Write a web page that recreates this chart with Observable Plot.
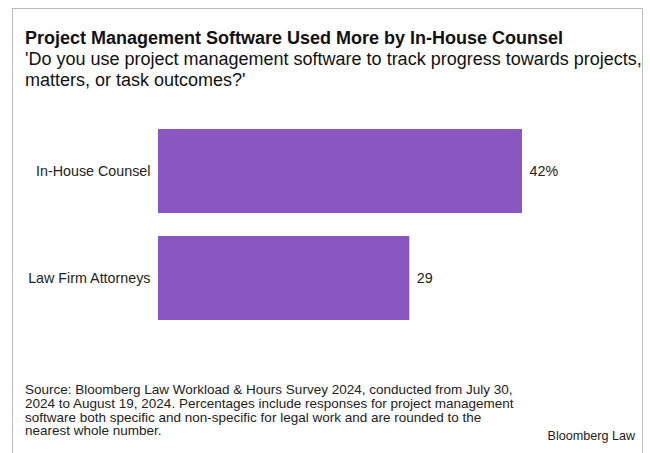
<!DOCTYPE html>
<html>
<head>
<meta charset="utf-8">
<script src="https://cdn.jsdelivr.net/npm/d3@7"></script>
<script src="https://cdn.jsdelivr.net/npm/@observablehq/plot@0.6"></script>
<style>
  html, body { margin: 0; padding: 0; background: #fff; }
  body { width: 650px; height: 453px; position: relative; overflow: hidden; font-family: "Liberation Sans", Arial, Helvetica, sans-serif; color: #111; }
  #frame { position: absolute; left: 12px; top: 8px; width: 631px; height: 460px; border: 1px solid #bdbdbd; box-sizing: border-box; }
  #title { position: absolute; left: 25px; top: 27px; font-size: 18px; line-height: 22px; font-weight: bold; white-space: nowrap; }
  #subtitle { position: absolute; left: 25px; top: 49px; width: 620px; font-size: 18px; line-height: 21px; color: #111; white-space: nowrap; }
  #chart { position: absolute; left: 0; top: 110px; }
  #source { position: absolute; left: 25px; top: 383px; font-size: 13.5px; line-height: 13.8px; color: #222; white-space: nowrap; }
  #brand { position: absolute; right: 15px; top: 429px; font-size: 12.6px; color: #222; }
</style>
</head>
<body>
<div id="frame"></div>
<div id="title">Project Management Software Used More by In-House Counsel</div>
<div id="subtitle">'Do you use project management software to track progress towards projects,<br>matters, or task outcomes?'</div>
<div id="chart"></div>
<div id="source">Source: Bloomberg Law Workload &amp; Hours Survey 2024, conducted from July 30,<br>2024 to August 19, 2024. Percentages include responses for project management<br>software both specific and non-specific for legal work and are rounded to the<br>nearest whole number.</div>
<div id="brand">Bloomberg Law</div>
<script>
const categories = ["In-House Counsel", "Law Firm Attorneys"];
const values = [42, 29];
const valueLabels = ["42%", "29"];

const data = categories.map((c, i) => ({category: c, value: values[i], label: valueLabels[i]}));

const chart = Plot.plot({
  width: 650,
  height: 230,
  marginTop: 19,
  marginBottom: 20,
  marginLeft: 158,
  marginRight: 128,
  style: {fontFamily: "'Liberation Sans', Arial, Helvetica, sans-serif", fontSize: "14px", color: "#222", background: "transparent"},
  x: {domain: [0, 42], axis: null},
  y: {domain: categories, paddingInner: 0.215, paddingOuter: 0, label: null},
  marks: [
    Plot.barX(data, {x: "value", y: "category", fill: "#8a56c2"}),
    Plot.text(data, {x: "value", y: "category", text: "label", textAnchor: "start", dx: 7, fontSize: 14.3, fill: "#222"}),
    Plot.axisY({tickSize: 0, tickPadding: 8, fontSize: 14.3, label: null})
  ]
});
document.getElementById("chart").appendChild(chart);
</script>
</body>
</html>
